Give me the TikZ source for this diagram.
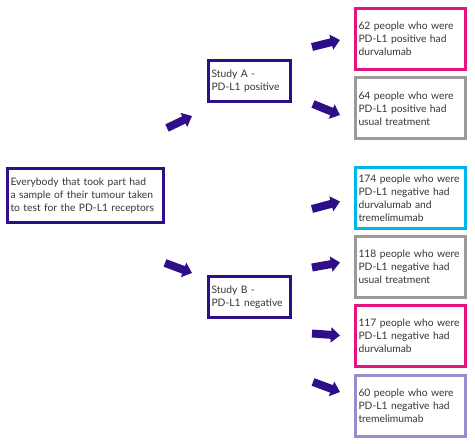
\documentclass[tikz,border=0pt]{standalone}
\usepackage{fontspec}
\setmainfont{Lato}
\usetikzlibrary{arrows.meta}
\hyphenpenalty=10000
\definecolor{crukpurple}{HTML}{2E0F88}
\definecolor{crukpink}{HTML}{E5137F}
\definecolor{crukgrey}{HTML}{9A9A9A}
\definecolor{crukcyan}{HTML}{00B5EA}
\definecolor{cruklilac}{HTML}{9C8BCE}
\definecolor{textgrey}{HTML}{363636}
\begin{document}
\begin{tikzpicture}[x=1pt,y=-1pt,
    box/.style={draw=#1, line width=3pt, fill=white, text=textgrey, align=left,
      inner xsep=2pt, inner ysep=3pt,
      font=\fontsize{10.3}{12.9}\selectfont},
    result/.style={box=#1, text width=104pt, minimum width=110pt, minimum height=61pt},
    study/.style={box=crukpurple, text width=76pt,
      minimum width=82pt, minimum height=41pt},
    blockarrow/.style={crukpurple, line width=8pt,
      -{Triangle[length=9pt, width=15pt]}}]
  \useasboundingbox (0,0) rectangle (475,444);
  % start and the two studies
  \node[box=crukpurple, text width=150pt, minimum width=156pt,
    minimum height=54pt] (all) at (85.5,195.5)
    {Everybody that took part had\\a sample of their tumour taken\\to test for the PD-L1 receptors};
  \node[study] (studyA) at (249.5,81) {Study A -\\PD-L1 positive};
  \node[study] (studyB) at (249.5,297) {Study B -\\PD-L1 negative};
  % the groups
  \node[result=crukpink] (posdurva) at (410.5,39) {62 people who were\\PD-L1 positive had\\durvalumab};
  \node[result=crukgrey] (posusual) at (410.5,108.5) {64 people who were\\PD-L1 positive had\\usual treatment};
  \node[result=crukcyan] (negcombo) at (410.5,198) {174 people who were\\PD-L1 negative had\\durvalumab and\\tremelimumab};
  \node[result=crukgrey] (negusual) at (410.5,267) {118 people who were\\PD-L1 negative had\\usual treatment};
  \node[result=crukpink] (negdurva) at (410.5,336) {117 people who were\\PD-L1 negative had\\durvalumab};
  \node[result=cruklilac] (negtreme) at (410.5,405.5) {60 people who were\\PD-L1 negative had\\tremelimumab};
  % arrows
  \coordinate (tA) at (167,128);   \coordinate (hA) at (192,116);
  \coordinate (tB) at (165,263);   \coordinate (hB) at (192,273);
  \coordinate (t1) at (312,47);    \coordinate (h1) at (340,40);
  \coordinate (t2) at (313,104);   \coordinate (h2) at (340,115);
  \coordinate (t3) at (312,209);   \coordinate (h3) at (340,201.5);
  \coordinate (t4) at (312,267.5); \coordinate (h4) at (340,262.5);
  \coordinate (t5) at (312,333.5); \coordinate (h5) at (340,335.5);
  \coordinate (t6) at (313,382);   \coordinate (h6) at (340,392);
  \draw[blockarrow] (tA) -- (hA);
  \draw[blockarrow] (tB) -- (hB);
  \draw[blockarrow] (t1) -- (h1);
  \draw[blockarrow] (t2) -- (h2);
  \draw[blockarrow] (t3) -- (h3);
  \draw[blockarrow] (t4) -- (h4);
  \draw[blockarrow] (t5) -- (h5);
  \draw[blockarrow] (t6) -- (h6);
\end{tikzpicture}
\end{document}
